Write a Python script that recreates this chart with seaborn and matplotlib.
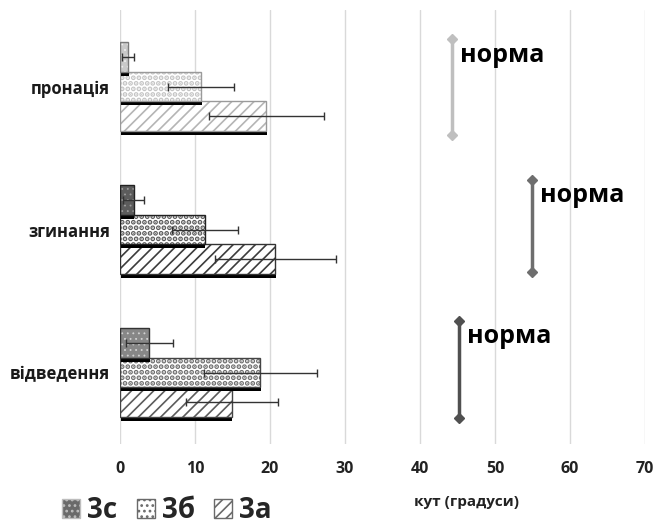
import numpy as np
import pandas as pd
import seaborn as sns
import matplotlib.pyplot as plt
from matplotlib.patches import Rectangle, Patch
from matplotlib.transforms import ScaledTranslation

# ---- data ----
categories = ['пронація', 'згинання', 'відведення']
groups = ['3с', '3б', '3а']
vals_3c = [1.1, 1.8, 3.9]
vals_3b = [10.8, 11.3, 18.7]
vals_3a = [19.5, 20.7, 14.9]
err_3c = [0.8, 1.4, 3.1]
err_3b = [4.35, 4.4, 7.5]
err_3a = [7.7, 8.1, 6.1]
norm_x = [44.3, 54.9, 45.2]
xticks = [0, 10, 20, 30, 40, 50, 60, 70]
xlabel = 'кут (градуси)'
norm_label = 'норма'

# ---- layout / style ----
norm_lo = [-0.33, 0.654, 1.64]
norm_hi = [0.34, 1.297, 2.318]
norm_colors = ['#bfbfbf', '#6e6e6e', '#505050']

fill = {'3с': ['#c9c9c9', '#5c5c5c', '#878787'],
        '3б': ['#ffffff', '#ffffff', '#ffffff'],
        '3а': ['#ffffff', '#ffffff', '#ffffff']}
hcol = {'3с': ['#efefef', '#9c9c9c', '#d2d2d2'],
        '3б': ['#c4c4c4', '#5a5a5a', '#6e6e6e'],
        '3а': ['#b5b5b5', '#3c3c3c', '#5c5c5c']}
ecol = {'3с': ['#7a7a7a', '#222222', '#333333'],
        '3б': ['#9a9a9a', '#222222', '#444444'],
        '3а': ['#9a9a9a', '#333333', '#444444']}
hatches = {'3с': '...', '3б': '...', '3а': '///'}
hlw = {'3с': 0.6, '3б': 2.5, '3а': 1.2}
zbase = {'3а': 2.0, '3б': 2.3, '3с': 2.6}

sns.set_theme(style='white')
plt.rcParams['font.family'] = ['Open Sans', 'DejaVu Sans']
plt.rcParams['hatch.linewidth'] = 1.2

df = pd.DataFrame({
    'category': categories * 3,
    'group': np.repeat(groups, len(categories)),
    'value': vals_3c + vals_3b + vals_3a,
})
errs = {'3с': err_3c, '3б': err_3b, '3а': err_3a}

fig = plt.figure(figsize=(6.57, 5.24), dpi=100)
ax = fig.add_axes([120 / 657, 1 - 444 / 524, 525 / 657, 434 / 524])

sns.barplot(data=df, y='category', x='value', hue='group', order=categories,
            hue_order=groups, orient='h', width=0.625, gap=0, errorbar=None,
            legend=False, ax=ax, saturation=1)

shadow_tr = ax.transData + ScaledTranslation(0.5 / 100, -4 / 100, fig.dpi_scale_trans)
for g, cont in zip(groups, ax.containers):
    z = zbase[g]
    centers = []
    widths = []
    for i, p in enumerate(cont.patches):
        x0, y0 = p.get_x(), p.get_y()
        w, h = p.get_width(), p.get_height()
        centers.append(y0 + h / 2)
        widths.append(w)
        p.set_facecolor(fill[g][i])
        p.set_hatch(hatches[g])
        p.set_edgecolor(hcol[g][i])
        p.set_linewidth(0)
        if hasattr(p, 'set_hatch_linewidth'):
            p.set_hatch_linewidth(hlw[g])
        p.set_zorder(z + 0.1)
        ax.add_patch(Rectangle((x0, y0), w, h, transform=shadow_tr,
                               facecolor='black', edgecolor='none', zorder=z))
        ax.add_patch(Rectangle((x0, y0), w, h, fill=False,
                               edgecolor=ecol[g][i], linewidth=1.0, zorder=z + 0.2))
    ax.errorbar(widths, centers, xerr=errs[g], fmt='none', ecolor='#333333',
                elinewidth=1, capsize=3, capthick=1, zorder=6)

for i in range(len(categories)):
    ax.plot([norm_x[i], norm_x[i]], [norm_lo[i], norm_hi[i]], color=norm_colors[i],
            lw=2.5, marker='D', ms=5, zorder=7, solid_capstyle='butt')
    ax.text(norm_x[i] + 1.1, norm_lo[i] + 0.11, norm_label, fontsize=18,
            fontweight='bold', ha='left', va='center', color='black', zorder=8)

ax.set_xlim(0, 70)
ax.set_ylim(2.5, -0.535)
ax.set_xticks(xticks)
ax.set_xticklabels([str(t) for t in xticks], fontsize=11.5, fontweight='bold', color='#222222')
ax.tick_params(axis='x', length=0, pad=12)
ax.tick_params(axis='y', length=0, pad=7, labelsize=12)
for lab in ax.get_yticklabels():
    lab.set_fontweight('bold')
    lab.set_color('#1a1a1a')
ax.set_ylabel('')
ax.set_xlabel(xlabel, fontsize=11, fontweight='bold', color='#222222')
ax.xaxis.set_label_coords((467 - 120) / 525, -(502 - 444) / 434)
ax.xaxis.label.set_va('center')
ax.grid(axis='x', color='#d9d9d9', lw=1)
ax.grid(axis='y', visible=False)
ax.set_axisbelow(True)
for s in ax.spines.values():
    s.set_visible(False)

handles = [Patch(facecolor='#6a6a6a', edgecolor='#bdbdbd', hatch='...'),
           Patch(facecolor='white', edgecolor='#6a6a6a', hatch='...'),
           Patch(facecolor='white', edgecolor='#6a6a6a', hatch='///')]
for hd, g in zip(handles, groups):
    if hasattr(hd, 'set_hatch_linewidth'):
        hd.set_hatch_linewidth(hlw[g])
fig.legend(handles, groups, loc='center left', bbox_to_anchor=(62 / 657, 1 - 511 / 524),
           ncol=3, frameon=False, prop={'size': 20, 'weight': 'bold'},
           handlelength=0.65, handleheight=0.65, handletextpad=0.25,
           columnspacing=0.7, borderaxespad=0, borderpad=0)

fig.savefig('out.png', dpi=100)
